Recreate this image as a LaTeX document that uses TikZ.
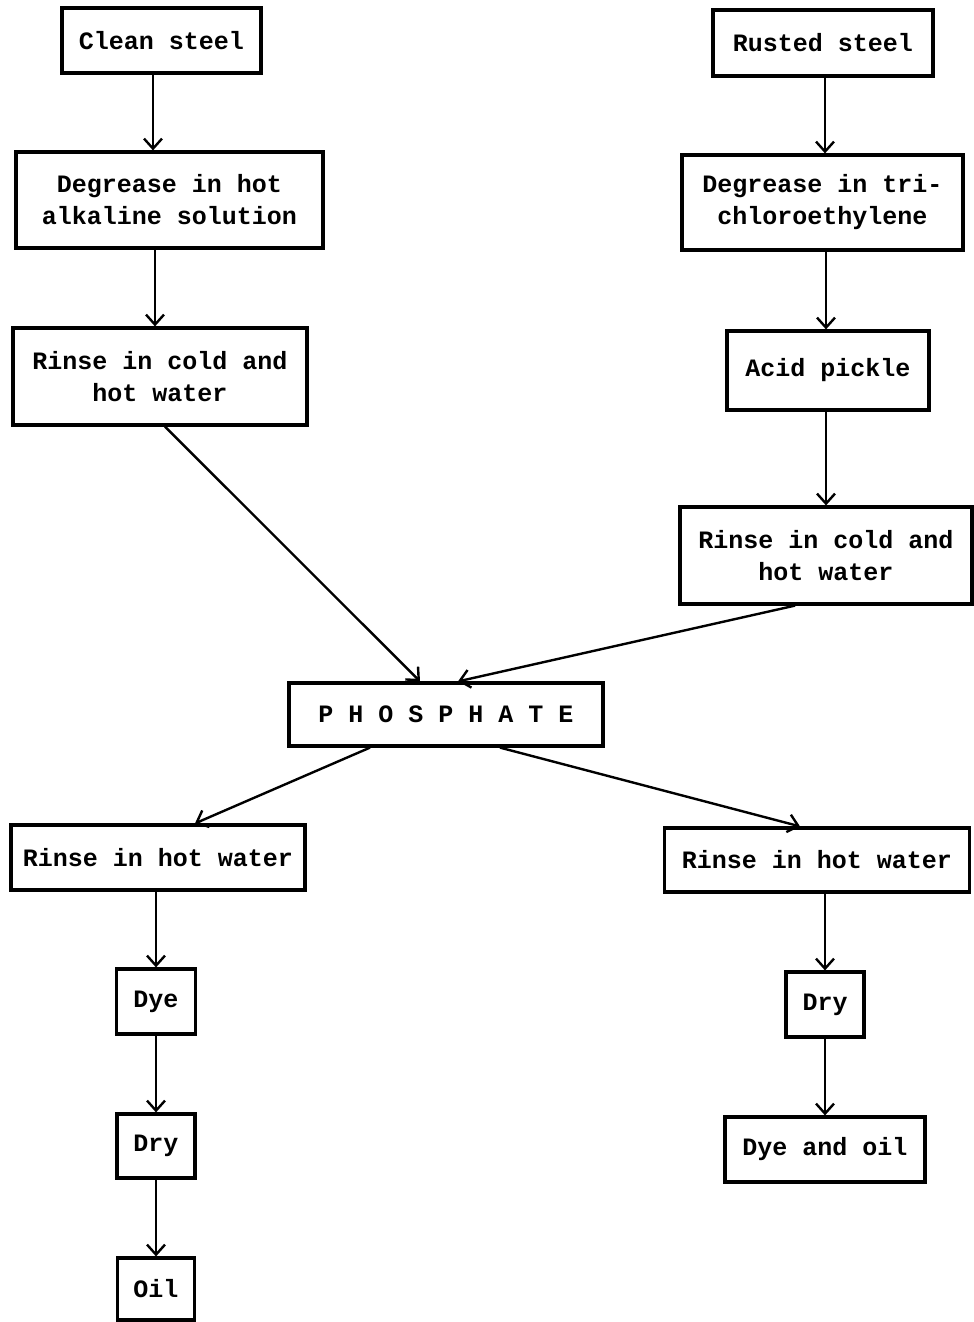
\documentclass[tikz,border=0pt]{standalone}
\usepackage{fontspec}
\setmonofont{Liberation Mono}
\usetikzlibrary{arrows.meta}
\begin{document}
\begin{tikzpicture}[x=0.5pt,y=-0.5pt,
  box/.style={draw, line width=1.6pt, font=\ttfamily\bfseries\fontsize{12.5}{16}\selectfont, align=center, inner sep=0pt},
  flow/.style={-{Straight Barb[length=5pt,width=9pt]}, line width=1.2pt}]
\useasboundingbox (0,0) rectangle (974,1322);
\node[box, minimum width=99.5pt, minimum height=32.5pt] (clean) at (161.5,40.5) {Clean steel};
\node[box, minimum width=153.5pt, minimum height=48pt] (degA) at (169.5,200) {Degrease in hot\\alkaline solution};
\node[box, minimum width=147pt, minimum height=48.5pt] (rinseCL) at (160,376.5) {Rinse in cold and\\hot water};
\node[box, minimum width=110pt, minimum height=33pt] (rusted) at (823,43) {Rusted steel};
\node[box, minimum width=140.5pt, minimum height=47.5pt] (degB) at (822.5,202.5) {Degrease in tri-\\chloroethylene};
\node[box, minimum width=101pt, minimum height=39.5pt] (acid) at (828,370.5) {Acid pickle};
\node[box, minimum width=146pt, minimum height=48.5pt] (rinseCR) at (826,555.5) {Rinse in cold and\\hot water};
\node[box, minimum width=157pt, minimum height=31.5pt] (phos) at (446,714.5) {P H O S P H A T E};
\node[box, minimum width=147pt, minimum height=32.5pt] (rinseHL) at (158,857.5) {Rinse in hot water};
\node[box, minimum width=152.5pt, minimum height=32pt] (rinseHR) at (817,860) {Rinse in hot water};
\node[box, minimum width=39.5pt, minimum height=32.5pt] (dye) at (156,1001.5) {Dye};
\node[box, minimum width=39pt, minimum height=32pt] (dryL) at (156,1146) {Dry};
\node[box, minimum width=38.5pt, minimum height=31pt] (oil) at (156,1289) {Oil};
\node[box, minimum width=39pt, minimum height=32.5pt] (dryR) at (825,1004.5) {Dry};
\node[box, minimum width=100pt, minimum height=32.5pt] (dyeoil) at (825,1149.5) {Dye and oil};
\draw[flow] ([xshift=-4.25pt]clean.south) -- ([xshift=-4.25pt]clean.south |- degA.north);
\draw[flow] ([xshift=-7.25pt]degA.south) -- ([xshift=-7.25pt]degA.south |- rinseCL.north);
\draw[flow] ([xshift=1pt]rusted.south) -- ([xshift=1pt]rusted.south |- degB.north);
\draw[flow] ([xshift=1.75pt]degB.south) -- ([xshift=1.75pt]degB.south |- acid.north);
\draw[flow] ([xshift=-1pt]acid.south) -- ([xshift=-1pt]acid.south |- rinseCR.north);
\draw[flow] ([xshift=2.5pt]rinseCL.south) -- ([xshift=-13pt]phos.north);
\draw[flow] ([xshift=-15.5pt]rinseCR.south) -- ([xshift=6pt]phos.north);
\draw[flow] ([xshift=-38pt]phos.south) -- ([xshift=18.5pt]rinseHL.north);
\draw[flow] ([xshift=27pt]phos.south) -- ([xshift=-8.5pt]rinseHR.north);
\draw[flow] ([xshift=-1pt]rinseHL.south) -- ([xshift=-1pt]rinseHL.south |- dye.north);
\draw[flow] (dye) -- (dryL);
\draw[flow] (dryL) -- (oil);
\draw[flow] ([xshift=4pt]rinseHR.south) -- ([xshift=4pt]rinseHR.south |- dryR.north);
\draw[flow] (dryR) -- (dyeoil);
\end{tikzpicture}
\end{document}
